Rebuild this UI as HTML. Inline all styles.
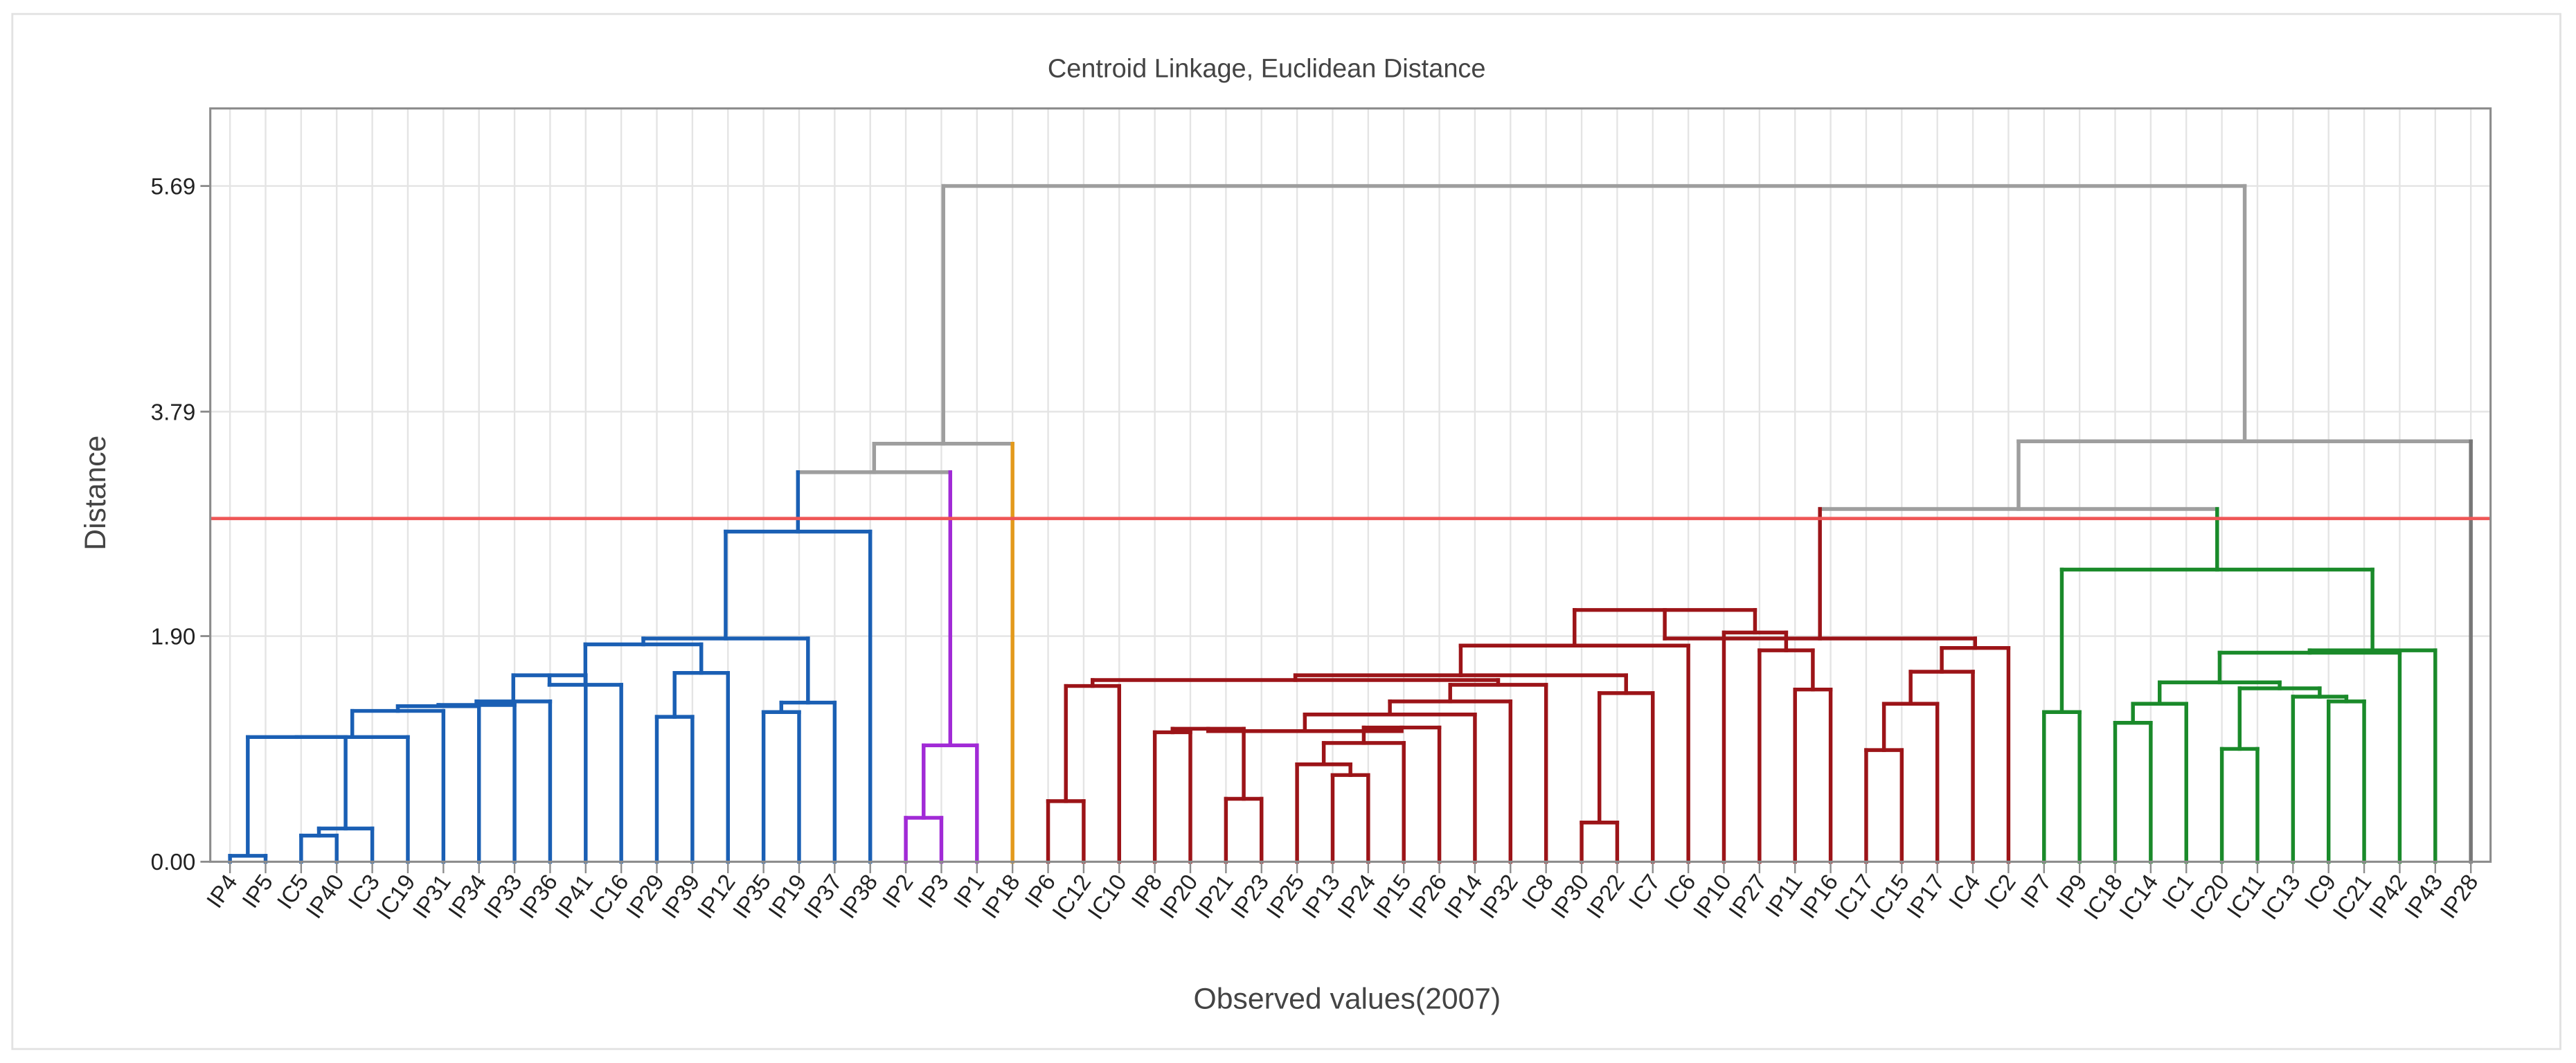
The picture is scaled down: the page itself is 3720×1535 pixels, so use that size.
<!DOCTYPE html>
<html><head><meta charset="utf-8"><style>
html,body{margin:0;padding:0;background:#fff;}
svg{display:block;}
text{font-family:"Liberation Sans",sans-serif;}
</style></head><body>
<svg id="chart" width="3720" height="1535" viewBox="0 0 1568 647" preserveAspectRatio="none" xmlns="http://www.w3.org/2000/svg">
<rect x="7.5" y="8.5" width="1551" height="630" fill="#fff" stroke="#e2e2e2" stroke-width="1.2"/>
<text x="771" y="47" font-size="16" fill="#444" text-anchor="middle">Centroid Linkage, Euclidean Distance</text>
<text transform="translate(64,300) rotate(-90)" font-size="18" fill="#444" text-anchor="middle">Distance</text>
<text x="820" y="614" font-size="18" fill="#444" text-anchor="middle">Observed values(2007)</text>
<g id="grid"></g>
<g id="marks"></g>
<g id="axes"></g>
</svg>
<script>
const leafNames = ["IP4","IP5","IC5","IP40","IC3","IC19","IP31","IP34","IP33","IP36","IP41","IC16","IP29","IP39","IP12","IP35","IP19","IP37","IP38","IP2","IP3","IP1","IP18","IP6","IC12","IC10","IP8","IP20","IP21","IP23","IP25","IP13","IP24","IP15","IP26","IP14","IP32","IC8","IP30","IP22","IC7","IC6","IP10","IP27","IP11","IP16","IC17","IC15","IP17","IC4","IC2","IP7","IP9","IC18","IC14","IC1","IC20","IC11","IC13","IC9","IC21","IP42","IP43","IP28"];
const clusterSizes = [19,3,1,28,12,1];
const clusterColors = ["#1a5fb4","#a12ad6","#e39a1c","#9c1418","#1a8a2a","#777777"];
const yTicks = [0.00,1.90,3.79,5.69];
const cutoff = 2.89;
const mergePairs = [
["IP4","IP5"],["IC5","IP40"],["#1","IC3"],["#0","#2"],["#3","IC19"],["#4","IP31"],["#5","IP34"],["#6","IP33"],["#7","IP36"],["#8","IP41"],
["#9","IC16"],["IP29","IP39"],["#11","IP12"],["#10","#12"],["IP35","IP19"],["#14","IP37"],["#13","#15"],["#16","IP38"],["IP2","IP3"],["#18","IP1"],
["#17","#19"],["#20","IP18"],["IP6","IC12"],["#22","IC10"],["IP8","IP20"],["IP21","IP23"],["#24","#25"],["IP13","IP24"],["IP25","#27"],["#28","IP15"],
["#29","IP26"],["#26","#30"],["#31","IP14"],["#32","IP32"],["#33","IC8"],["#23","#34"],["IP30","IP22"],["#36","IC7"],["#35","#37"],["#38","IC6"],
["IP11","IP16"],["IP27","#40"],["IP10","#41"],["#39","#42"],["IC17","IC15"],["#44","IP17"],["#45","IC4"],["#46","IC2"],["#43","#47"],
["IP7","IP9"],["IC18","IC14"],["#50","IC1"],["IC20","IC11"],["IC9","IC21"],["IC13","#53"],["#52","#54"],["#51","#55"],["#56","IP42"],["#57","IP43"],
["#49","#58"],["#48","#59"],["#60","IP28"],["#21","#61"]];
const mergeHeights = [0.05,0.22,0.28,1.05,1.05,1.27,1.31,1.32,1.35,1.57,
1.49,1.22,1.59,1.83,1.26,1.34,1.88,2.78,0.37,0.98,
3.28,3.52,0.51,1.48,1.09,0.53,1.12,0.73,0.82,1.00,
1.13,1.10,1.24,1.35,1.49,1.53,0.33,1.42,1.57,1.82,
1.45,1.78,1.93,2.12,0.94,1.33,1.60,1.80,1.88,
1.26,1.17,1.33,0.95,1.35,1.39,1.46,1.51,1.76,1.78,
2.46,2.97,3.54,5.69];

const NS="http://www.w3.org/2000/svg";
const PL=128, PR=1516, PT=66, PB=524.5;
const X0=140, DX=(1504-140)/63;
const xLeaf=i=>X0+i*DX;
const yScale=v=>PB - v*(PB-113.2)/5.69;
function mk(tag,attrs,parent){const e=document.createElementNS(NS,tag);for(const k in attrs)e.setAttribute(k,attrs[k]);parent.appendChild(e);return e;}
const grid=document.getElementById('grid'), marks=document.getElementById('marks'), axes=document.getElementById('axes');
// grid
for(let i=0;i<leafNames.length;i++){
  const l=mk('line',{x1:xLeaf(i),x2:xLeaf(i),y1:PT,y2:PB,stroke:'#e4e4e4','stroke-width':1},grid);
  
  
}
yTicks.forEach(t=>{
  const l=mk('line',{x1:PL,x2:PR,y1:yScale(t),y2:yScale(t),stroke:'#e4e4e4','stroke-width':1},grid);
  
  
});
// leaf clusters
const leafCluster=[];clusterSizes.forEach((n,c)=>{for(let k=0;k<n;k++)leafCluster.push(c);});
const nodes={};
leafNames.forEach((n,i)=>{nodes[n]={x:xLeaf(i),h:0,cl:leafCluster[i]};});
function get(r){return r[0]==='#'?nodes['m'+r.slice(1)]:nodes[r];}
const segs=[];
mergePairs.forEach((p,k)=>{
  const a=get(p[0]),b=get(p[1]),h=mergeHeights[k];
  const cl=(a.cl===b.cl)?a.cl:-1;
  const col=c=>c>=0?clusterColors[c]:'#9e9e9e';
  const y=yScale(h);
  segs.push({x1:a.x,y1:yScale(a.h),x2:a.x,y2:y,c:col(a.cl),nm:'branch-link'});
  segs.push({x1:b.x,y1:yScale(b.h),x2:b.x,y2:y,c:col(b.cl),nm:'branch-link'});
  segs.push({x1:a.x,y1:y,x2:b.x,y2:y,c:col(cl),nm:'merge-bar'});
  nodes['m'+k]={x:(a.x+b.x)/2,h:h,cl:cl};
});
segs.sort((s,t)=>(s.c==='#9e9e9e'?0:1)-(t.c==='#9e9e9e'?0:1));
segs.forEach(s=>{
  const l=mk('line',{x1:s.x1,y1:s.y1,x2:s.x2,y2:s.y2,stroke:s.c,'stroke-width':2.3,'stroke-linecap':'square'},marks);
  
  
});
// cutoff
const cl=mk('line',{x1:PL,x2:PR,y1:yScale(cutoff),y2:yScale(cutoff),stroke:'#ef5656','stroke-width':2},marks);


// axes frame
const fr=mk('rect',{x:PL,y:PT,width:PR-PL,height:PB-PT,fill:'none',stroke:'#8c8c8c','stroke-width':1.3},axes);


yTicks.forEach(t=>{
  const y=yScale(t);
  const tk=mk('line',{x1:PL-6,x2:PL,y1:y,y2:y,stroke:'#8c8c8c','stroke-width':1.2},axes);
  
  
  const tx=mk('text',{x:PL-9,y:y+5,'font-size':14,fill:'#222','text-anchor':'end'},axes);
  tx.textContent=t.toFixed(2);
  
  
});
leafNames.forEach((n,i)=>{
  const x=xLeaf(i);
  const tk=mk('line',{x1:x,x2:x,y1:PB,y2:PB+7,stroke:'#8c8c8c','stroke-width':1},axes);
  
  
  const tx=mk('text',{transform:`translate(${x+5},${PB+12}) rotate(-55)`,'font-size':14,fill:'#222','text-anchor':'end'},axes);
  tx.textContent=n;
  
  
});
</script>
</body></html>
